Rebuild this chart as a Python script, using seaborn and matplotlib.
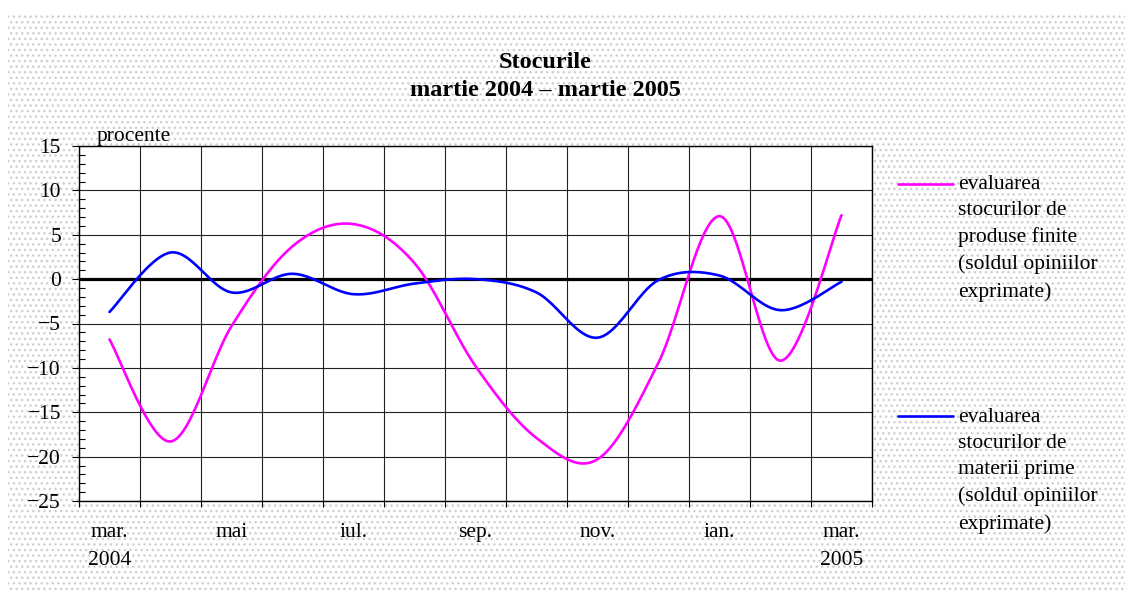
import matplotlib
matplotlib.use("Agg")
import matplotlib.pyplot as plt
import numpy as np
import pandas as pd
import seaborn as sns
from matplotlib.lines import Line2D
from matplotlib.patches import Rectangle
from matplotlib.ticker import FixedLocator, MultipleLocator


# Dane (saldo opinii, procente)
months = ["mar.", "apr.", "mai", "iun.", "iul.", "aug.", "sep.",
          "oct.", "nov.", "dec.", "ian.", "feb.", "mar."]
tick_positions = [0, 2, 4, 6, 8, 10, 12]
tick_labels = ["mar.\n2004", "mai", "iul.", "sep.", "nov.", "ian.", "mar.\n2005"]

finite_products = [-6.8, -18.3, -5.3, 3.7, 6.2, 1.8, -9.8,
                   -17.9, -20.3, -9.4, 7.1, -9.2, 7.2]
raw_materials = [-3.7, 3.0, -1.5, 0.6, -1.7, -0.5, 0.0,
                 -1.5, -6.6, -0.1, 0.4, -3.5, -0.3]

label_finite = "evaluarea\nstocurilor de\nproduse finite\n(soldul opiniilor\nexprimate)"
label_raw = "evaluarea\nstocurilor de\nmaterii prime\n(soldul opiniilor\nexprimate)"

PINK = "#FF00FF"
BLUE = "#0000FF"


def smooth(values, steps=24):
    # Wygladzanie jak w Excelu (Catmull-Rom przez punkty)
    p = np.array(values, dtype=float)
    x = np.arange(len(p), dtype=float)
    xs, ys = [], []
    for i in range(len(p) - 1):
        i0 = max(i - 1, 0)
        i3 = min(i + 2, len(p) - 1)
        bx = [x[i], x[i] + (x[i + 1] - x[i0]) / 6, x[i + 1] - (x[i3] - x[i]) / 6, x[i + 1]]
        by = [p[i], p[i] + (p[i + 1] - p[i0]) / 6, p[i + 1] - (p[i3] - p[i]) / 6, p[i + 1]]
        t = np.linspace(0, 1, steps, endpoint=(i == len(p) - 2))
        for c, out in ((bx, xs), (by, ys)):
            out.extend((1 - t) ** 3 * c[0] + 3 * (1 - t) ** 2 * t * c[1]
                       + 3 * (1 - t) * t ** 2 * c[2] + t ** 3 * c[3])
    return xs, ys


frames = []
for name, values in (("finite", finite_products), ("raw", raw_materials)):
    sx, sy = smooth(values)
    frames.append(pd.DataFrame({"x": sx, "value": sy, "series": name}))
df = pd.concat(frames, ignore_index=True)


sns.set_theme(style="white")
plt.rcParams["font.family"] = ["Liberation Serif", "DejaVu Serif"]
plt.rcParams["hatch.linewidth"] = 1.0
plt.rcParams["text.color"] = "black"
plt.rcParams["xtick.color"] = "black"
plt.rcParams["ytick.color"] = "black"
plt.rcParams["xtick.labelcolor"] = "black"
plt.rcParams["ytick.labelcolor"] = "black"

fig = plt.figure(figsize=(11.25, 5.92), dpi=100)
fig.patch.set_facecolor("white")

# Kropkowane tlo wykresu
fig.add_artist(Rectangle((8 / 1125, 0), 1 - 8 / 1125, 1 - 13 / 592,
                         transform=fig.transFigure, facecolor="white",
                         edgecolor="#cfcfcf", hatch="...", linewidth=0, zorder=0))

ax = fig.add_axes([79 / 1125, 91 / 592, 793 / 1125, 355 / 592])
ax.set_facecolor("white")

sns.lineplot(data=df, x="x", y="value", hue="series", sort=False, estimator=None,
             palette={"finite": PINK, "raw": BLUE}, linewidth=1.9, legend=False,
             ax=ax, zorder=5)

ax.set_xlim(-0.5, len(months) - 0.5)
ax.set_ylim(-25, 15)

# Os X: podpisy co dwa miesiace, podzialki miedzy kategoriami
ax.set_xticks(tick_positions)
ax.set_xticklabels(tick_labels, fontsize=15.5)
ax.xaxis.set_minor_locator(FixedLocator(np.arange(-0.5, len(months), 1.0)))
ax.tick_params(axis="x", which="major", length=0, pad=16)
ax.tick_params(axis="x", which="minor", length=4, width=0.8, direction="out",
               color="black", bottom=True)
for lab in ax.get_xticklabels():
    lab.set_linespacing(1.65)
    lab.set_multialignment("center")

# Os Y
ax.yaxis.set_major_locator(MultipleLocator(5))
ax.yaxis.set_minor_locator(MultipleLocator(1))
ax.tick_params(axis="y", which="major", length=5, width=0.8, direction="out",
               color="black", left=True, labelsize=15.5, pad=8)
ax.tick_params(axis="y", which="minor", length=4, width=0.8, direction="in",
               color="black", left=True)

ax.grid(axis="y", which="major", color="#222222", linewidth=0.8)
ax.grid(axis="x", which="minor", color="#222222", linewidth=0.8)
ax.axhline(0, color="black", linewidth=2.3, zorder=4)

for spine in ax.spines.values():
    spine.set_color("black")
    spine.set_linewidth(1.0)

ax.set_xlabel("")
ax.set_ylabel("")
ax.text(18 / 793, 1.0, "procente", transform=ax.transAxes, fontsize=15.5,
        ha="left", va="bottom")

# Tytul
fig.text(545 / 1125, 1 - 52 / 592, "Stocurile\nmartie 2004 \u2013 martie 2005",
         ha="center", va="top", fontsize=17.5, fontweight="bold",
         multialignment="center", linespacing=1.45)

# Legenda po prawej stronie
line_gap = 26.3
for y_px, color, text in ((184, PINK, label_finite), (416, BLUE, label_raw)):
    y = 1 - y_px / 592
    fig.add_artist(Line2D([898 / 1125, 953 / 1125], [y, y], color=color,
                          linewidth=1.9, transform=fig.transFigure))
    last_baseline = y_px + 7.5 + 4 * line_gap
    fig.text(958 / 1125, 1 - last_baseline / 592, text, fontsize=15.5,
             ha="left", va="baseline", linespacing=1.51)

plt.savefig("out.png", dpi=100)
plt.close()
